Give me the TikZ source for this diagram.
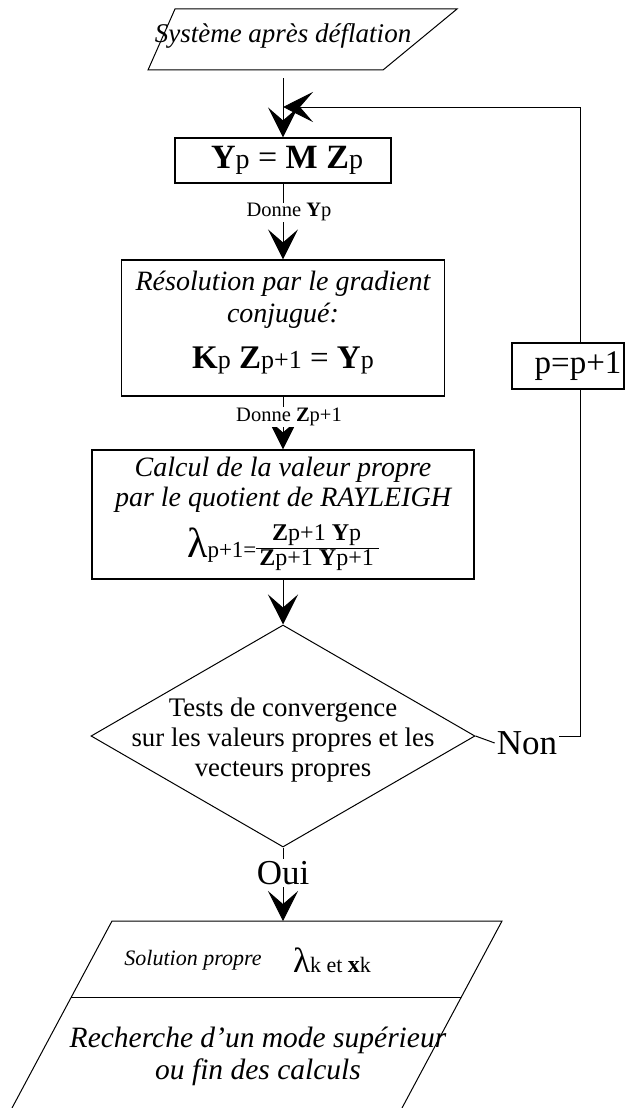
\documentclass[tikz,border=0pt]{standalone}
\usepackage{fontspec}
\setmainfont{Liberation Serif}
\usetikzlibrary{arrows.meta,shapes.geometric,positioning}
\newcommand{\fsz}[2]{\fontsize{#1}{#2}\selectfont}
\newcommand{\idx}[2]{{\fsz{#1}{#1}#2}}

\begin{document}
\begin{tikzpicture}[
    x=1pt, y=-1pt,
    box/.style={rectangle, draw, line width=1.2pt, inner sep=0pt, align=center},
    link/.style={line width=1pt},
    arrow/.style={link, -{Stealth[length=30pt, width=30pt, inset=13pt]}},
    donne/.style={fill=white, inner sep=1pt, xshift=6pt, font=\fsz{20.5}{24}},
    answer/.style={fill=white, inner sep=2pt, font=\fsz{35}{40}}
]
\useasboundingbox (0,0) rectangle (627,1108);

% Systeme apres deflation (top)
\draw[link] (175,9) -- (457,9) -- (383,70) -- (148,70) -- cycle;
\node[font=\fsz{27}{30}\itshape] (start) at (283,36) {Système après déflation};
\coordinate (startout) at (283,78);
\coordinate (merge) at (283,107);

% Iteration boxes
\node[box, minimum width=216pt, minimum height=45pt, font=\fsz{34}{38}] (prod) at (283,160.5)
    {\hspace*{8pt}\textbf{Y}\idx{28}{p} = \textbf{M} \textbf{Z}\idx{28}{p}};

\node[box, minimum width=323pt, minimum height=136pt, font=\fsz{28}{32}\itshape] (grad) at (283,328)
    {Résolution par le gradient\\
     conjugué:\\[14pt]
     \fsz{33}{32}\upshape\textbf{K}\idx{26}{p} \textbf{Z}\idx{26}{p+1} = \textbf{Y}\idx{26}{p}\rule[-17pt]{0pt}{0pt}};

\node[box, minimum width=382pt, minimum height=129pt, font=\fsz{28}{30}\itshape] (rayl) at (283,514.5)
    {Calcul de la valeur propre\\
     par le quotient de RAYLEIGH\\[11pt]
     \fsz{42}{30}\upshape λ\idx{23}{p+1=}\raisebox{3pt}{{\fsz{24}{24}\begin{tabular}{@{\hspace{3pt}}c@{\hspace{5pt}}}
        \textbf{Z}p+1 \textbf{Y}p\\\hline
        \textbf{Z}p+1 \textbf{Y}p+1
     \end{tabular}}}};

\draw[arrow] (startout) -- (prod);
\draw[arrow] (prod) -- node[donne, pos=.38] (donney) {Donne \textbf{Y}p} (grad);
\draw[arrow] (grad) -- node[donne, pos=.39] (donnez) {Donne \textbf{Z}p+1} (rayl);

% Convergence test
\node[diamond, draw, line width=1pt, minimum width=384pt, minimum height=222pt, inner sep=0pt] (conv) at (283,736) {};
\node[align=center, font=\fsz{26.8}{30}] (convtxt) at (283,740)
    {Tests de convergence\\sur les valeurs propres et les\\vecteurs propres};
\draw[arrow] (rayl) -- (conv);

% Loop back p=p+1
\node[answer] (non) at (527,743) {Non};
\node[box, minimum width=112pt, minimum height=46pt, font=\fsz{33}{36}] (incr) at (568,366) {\hspace*{20pt}p=p+1};
\coordinate (loopx) at (580,0);
\draw[link] (conv.east) -- (non.west);
\draw[link] (non.east |- conv.east) -| (incr.south -| loopx);
\draw[arrow] (incr.north -| loopx) |- (merge);

% Solution (bottom)
\draw[link] (12,1108) -- (112,921) -- (502,921) -- (402,1108);
\draw[link] (71,997) -- (461,997);
\coordinate (soltop) at (283,921);
\draw[arrow] (conv.south) -- node[answer, pos=.35] (oui) {Oui} (soltop);
\node[font=\fsz{22}{26}\itshape] (soltxt) at (193,960) {Solution propre};
\node[font=\fsz{35}{40}] (solval) at (332,960) {λ\idx{22}{k et }\fsz{24}{28}\textbf{x}\idx{22}{k}};
\node[align=center, font=\fsz{29.5}{32}\itshape] (next) at (258,1056)
    {Recherche d’un mode supérieur\\ou fin des calculs};

\end{tikzpicture}
\end{document}
